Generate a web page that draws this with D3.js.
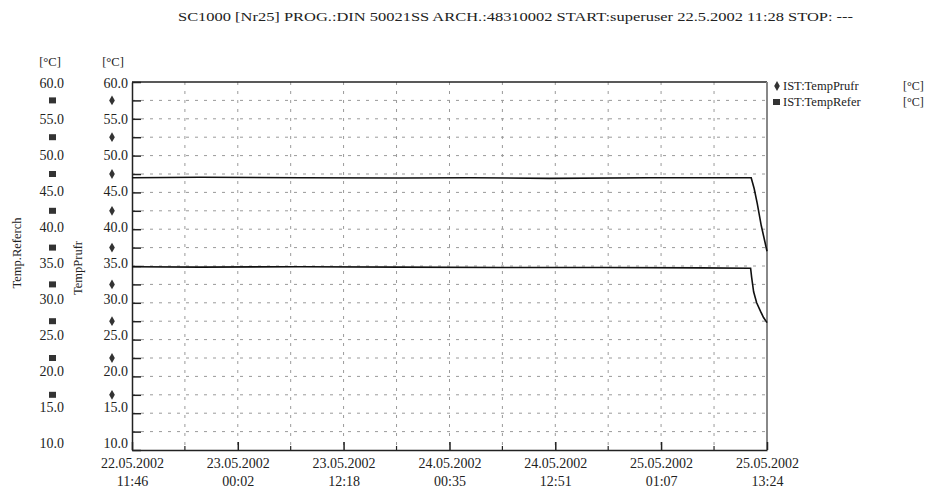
<!DOCTYPE html>
<html><head><meta charset="utf-8">
<script src="https://cdn.jsdelivr.net/npm/d3@7"></script>
<style>
html,body{margin:0;padding:0;background:#fff;}
svg text{font-family:"Liberation Serif","DejaVu Serif",serif;fill:#222;}
</style></head>
<body>
<svg id="chart" width="931" height="492"></svg>
<script>
const titleText = "SC1000 [Nr25] PROG.:DIN 50021SS ARCH.:48310002 START:superuser 22.5.2002  11:28 STOP: ---";
const seriesNames = ["IST:TempPrufr", "IST:TempRefer"];
const axisTitles = ["Temp.Referch", "TempPrufr"];
const unitLabel = "[°C]";
const yTickValues = [10, 15, 20, 25, 30, 35, 40, 45, 50, 55, 60];
const yMarkerValues = [17.5, 22.5, 27.5, 32.5, 37.5, 42.5, 47.5, 52.5, 57.5];
const xTickLabels = ["22.05.2002 11:46", "23.05.2002 00:02", "23.05.2002 12:18", "24.05.2002 00:35", "24.05.2002 12:51", "25.05.2002 01:07", "25.05.2002 13:24"];
// TempPrufr series (time, °C)
const prufTimes = ["22.05.2002 11:46","22.05.2002 19:40","23.05.2002 07:20","23.05.2002 18:50","24.05.2002 03:00","24.05.2002 12:10","24.05.2002 23:45","25.05.2002 11:34","25.05.2002 11:55","25.05.2002 12:16","25.05.2002 12:44","25.05.2002 13:24"];
const prufValues = [47.0, 47.05, 47.0, 46.95, 47.0, 46.9, 47.0, 47.0, 45.5, 43.5, 40.5, 37.0];
// TempRefer series (time, °C)
const refTimes = ["22.05.2002 11:46","22.05.2002 19:40","23.05.2002 07:20","23.05.2002 18:50","24.05.2002 06:30","24.05.2002 18:10","25.05.2002 05:50","25.05.2002 11:30","25.05.2002 11:37","25.05.2002 11:51","25.05.2002 12:12","25.05.2002 12:40","25.05.2002 13:00","25.05.2002 13:24"];
const refValues = [34.9, 34.85, 34.9, 34.85, 34.8, 34.8, 34.75, 34.7, 33.5, 31.5, 30.0, 28.8, 28.0, 27.3];

const parse = d3.timeParse("%d.%m.%Y %H:%M");
const svg = d3.select("#chart");
const M = {left:132, right:767, top:82, bottom:450};

const xTicks = xTickLabels.map(parse);
const x = d3.scaleTime().domain([xTicks[0], xTicks[xTicks.length-1]]).range([M.left, M.right]);
const y = d3.scaleLinear().domain([10, 60]).range([M.bottom, M.top]);
// label positions are slightly compressed relative to the ticks
const yLab = d3.scaleLinear().domain([10, 60]).range([443, 83]);

const xMinor = [];
for (let i=0;i<xTicks.length-1;i++) xMinor.push(new Date((+xTicks[i] + +xTicks[i+1])/2));
const yGrid = d3.range(12.5, 60, 2.5);

// title
svg.append("text").attr("x", 178).attr("y", 21).attr("font-size", 12.5)
  .attr("textLength", 675).attr("lengthAdjust", "spacingAndGlyphs").text(titleText);

// gridlines
const grid = svg.append("g").attr("stroke", "#9a9a9a").attr("stroke-width", 1).attr("stroke-dasharray", "3,6");
grid.selectAll("line.h").data(yGrid).join("line").attr("class","h")
  .attr("x1", M.left).attr("x2", M.right).attr("y1", d=>y(d)).attr("y2", d=>y(d));
grid.selectAll("line.v").data(xTicks.slice(1,-1).concat(xMinor)).join("line").attr("class","v")
  .attr("y1", M.top).attr("y2", M.bottom).attr("x1", d=>x(d)).attr("x2", d=>x(d));

// frame top & right
svg.append("line").attr("x1", M.left).attr("x2", M.right).attr("y1", M.top).attr("y2", M.top)
  .attr("stroke", "#222").attr("stroke-width", 1.5);
svg.append("line").attr("x1", M.right).attr("x2", M.right).attr("y1", M.top).attr("y2", M.bottom)
  .attr("stroke", "#888").attr("stroke-width", 2);

// y axis (inner) - ticks only
const yAxis = d3.axisLeft(y).tickValues(d3.range(10, 60.1, 2.5)).tickSize(-9).tickSizeOuter(0).tickFormat("");
const gy = svg.append("g").attr("transform", `translate(${M.left},0)`).call(yAxis);
gy.selectAll("line,path").attr("stroke", "#222").attr("stroke-width", 1.5);

// inner label column
const gyl = svg.append("g").attr("transform", "translate(128,0)")
  .call(d3.axisLeft(yLab).tickValues(yTickValues).tickSize(0).tickPadding(0).tickFormat(d3.format(".1f")));
gyl.select(".domain").remove();
gyl.selectAll("text").attr("font-size", 14).attr("fill", "#333").style("font-family", "Liberation Serif");

// outer label column
const gy2 = svg.append("g").attr("transform", "translate(64,0)")
  .call(d3.axisLeft(yLab).tickValues(yTickValues).tickSize(0).tickPadding(0).tickFormat(d3.format(".1f")));
gy2.select(".domain").remove();
gy2.selectAll("text").attr("font-size", 14).attr("fill", "#222").style("font-family", "Liberation Serif");

// markers
svg.selectAll("rect.mk").data(yMarkerValues).join("rect").attr("class","mk")
  .attr("x", 49).attr("y", d=>y(d)-3).attr("width", 7).attr("height", 6).attr("fill", "#333");
const diamond = d3.symbol().type(d3.symbolDiamond).size(28);
svg.selectAll("path.mk").data(yMarkerValues).join("path").attr("class","mk")
  .attr("d", diamond).attr("transform", d=>`translate(112,${y(d)})`).attr("fill", "#333");

// units
svg.append("text").attr("x", 50).attr("y", 66).attr("font-size", 12.5).attr("text-anchor","middle").text(unitLabel);
svg.append("text").attr("x", 113).attr("y", 66).attr("font-size", 12.5).attr("text-anchor","middle").text(unitLabel);

// rotated axis titles
svg.append("text").attr("transform", "translate(21,253) rotate(-90)").attr("font-size", 12.5)
  .attr("text-anchor","middle").text(axisTitles[0]);
svg.append("text").attr("transform", "translate(82,268) rotate(-90)").attr("font-size", 12.5)
  .attr("text-anchor","middle").text(axisTitles[1]);

// x axis
const xAxis = d3.axisBottom(x).tickValues(xTicks).tickSize(-8).tickSizeOuter(0).tickFormat("");
const gx = svg.append("g").attr("transform", `translate(0,${M.bottom})`).call(xAxis);
gx.selectAll("line,path").attr("stroke", "#222").attr("stroke-width", 1.5);
gx.selectAll(".tick").each(function(d, i){
  const parts = xTickLabels[i].split(" ");
  const t = d3.select(this).append("text").attr("fill", "#222").attr("font-size", 14)
    .attr("text-anchor", "middle").style("font-family","Liberation Serif");
  t.append("tspan").attr("x", 0).attr("y", 18).text(parts[0]);
  t.append("tspan").attr("x", 0).attr("y", 36).text(parts[1]);
});
gx.selectAll("line.minor").data(xMinor).join("line").attr("class","minor")
  .attr("x1", d=>x(d)).attr("x2", d=>x(d)).attr("y1", 0).attr("y2", -4)
  .attr("stroke", "#222").attr("stroke-width", 1.2);

// data lines
const line = d3.line().x(d=>x(d[0])).y(d=>y(d[1]));
const prufData = prufTimes.map((t,i)=>[parse(t), prufValues[i]]);
const refData = refTimes.map((t,i)=>[parse(t), refValues[i]]);
svg.append("path").datum(prufData).attr("d", line).attr("fill","none").attr("stroke","#111").attr("stroke-width",1.6);
svg.append("path").datum(refData).attr("d", line).attr("fill","none").attr("stroke","#111").attr("stroke-width",1.6);

// legend
const lg = svg.append("g").attr("transform", "translate(773,0)");
lg.append("path").attr("d", diamond).attr("transform", "translate(4,86)").attr("fill","#333");
lg.append("rect").attr("x", 0).attr("y", 99).attr("width", 7).attr("height", 6).attr("fill","#333");
lg.append("text").attr("x", 10).attr("y", 90).attr("font-size", 12.5).text(seriesNames[0]);
lg.append("text").attr("x", 10).attr("y", 106).attr("font-size", 12.5).text(seriesNames[1]);
lg.append("text").attr("x", 130).attr("y", 90).attr("font-size", 12).text(unitLabel);
lg.append("text").attr("x", 130).attr("y", 106).attr("font-size", 12).text(unitLabel);
</script>
</body></html>
